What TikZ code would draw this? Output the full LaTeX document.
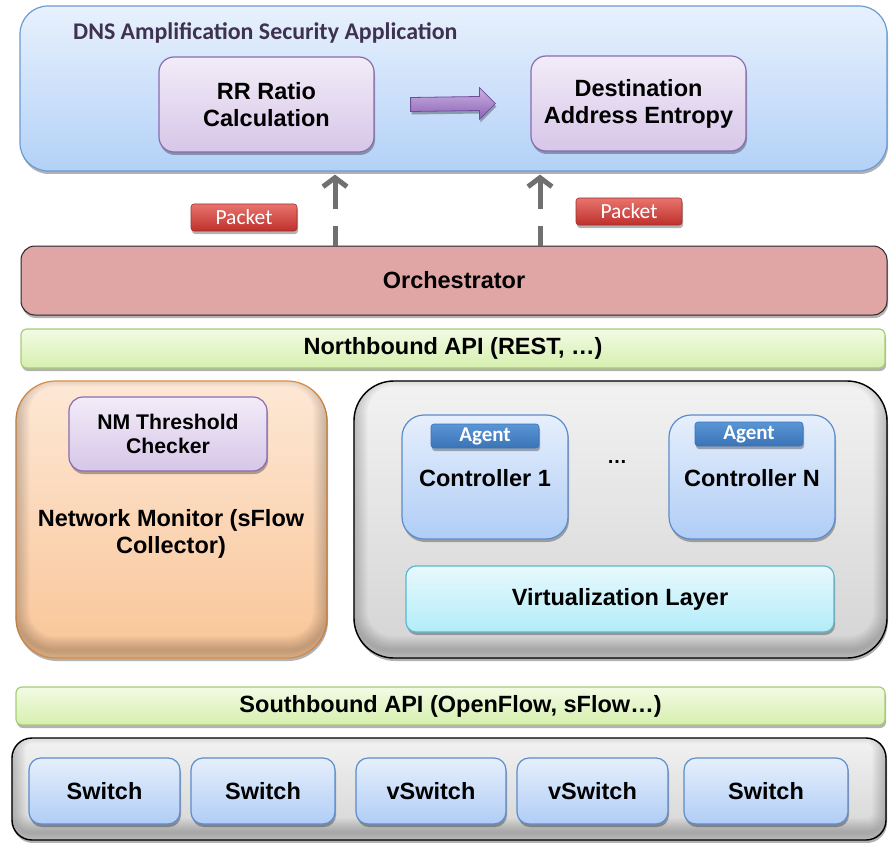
\documentclass[tikz,border=0pt]{standalone}
\usepackage{fontspec}
\setmainfont{Liberation Sans}
\newfontfamily\carl{Carlito}
\usetikzlibrary{shadows,calc,arrows.meta}

\definecolor{appTop}{HTML}{E8F1FD}
\definecolor{appBot}{HTML}{B3D1F7}
\definecolor{appLine}{HTML}{6A9BD1}
\definecolor{purTop}{HTML}{F2ECF8}
\definecolor{purBot}{HTML}{D7C6E8}
\definecolor{purLine}{HTML}{8A6BB0}
\definecolor{redTop}{HTML}{E8746E}
\definecolor{redBot}{HTML}{BE302C}
\definecolor{redLine}{HTML}{A03030}
\definecolor{orchFill}{HTML}{E0A6A6}
\definecolor{grnTop}{HTML}{F2FBE4}
\definecolor{grnBot}{HTML}{D6EFAE}
\definecolor{grnLine}{HTML}{A6CC78}
\definecolor{orTop}{HTML}{FDE8D6}
\definecolor{orBot}{HTML}{F9C597}
\definecolor{orLine}{HTML}{F6A050}
\definecolor{gyTop}{HTML}{F2F2F2}
\definecolor{gyBot}{HTML}{D4D4D4}
\definecolor{ctTop}{HTML}{E6EFFC}
\definecolor{ctBot}{HTML}{B0CDF6}
\definecolor{ctLine}{HTML}{5B8CCC}
\definecolor{agTop}{HTML}{5A95D5}
\definecolor{agBot}{HTML}{3A74B8}
\definecolor{cyTop}{HTML}{E8F9FD}
\definecolor{cyBot}{HTML}{B2ECF9}
\definecolor{cyLine}{HTML}{5AB8D0}
\definecolor{titleCol}{HTML}{3F3151}
\definecolor{arrowGray}{HTML}{707070}
\definecolor{blkTop}{HTML}{CDB0E4}
\definecolor{blkBot}{HTML}{8A64B4}
\definecolor{blkLine}{HTML}{6E4E9C}

\tikzset{
  shad/.style={drop shadow={shadow xshift=1pt,shadow yshift=-3pt,opacity=0.3,fill=black}},
  big/.style={font=\fontsize{23.5}{27}\selectfont\bfseries, align=center},
  appbox/.style={shad, draw=appLine, line width=1.2pt, top color=appTop, bottom color=appBot, rounded corners=28pt},
  purbox/.style={shad, draw=purLine, line width=1.2pt, top color=purTop, bottom color=purBot, rounded corners=15pt, big},
  packet/.style={shad, draw=redLine, line width=0.6pt, top color=redTop, bottom color=redBot, rounded corners=3pt,
    minimum width=106pt, minimum height=27pt, inner sep=0pt, text=white, font=\carl\fontsize{21.5}{24}\selectfont},
  orchbox/.style={shad, draw=black!85, line width=1pt, fill=orchFill, rounded corners=14pt, big},
  apibar/.style={shad, draw=grnLine, line width=1.2pt, top color=grnTop, bottom color=grnBot, rounded corners=6pt, big},
  orbox/.style={shad, draw=orLine, line width=1.2pt, top color=orTop, bottom color=orBot, rounded corners=40pt},
  graybox/.style={shad, draw=black, line width=1.4pt, top color=gyTop, bottom color=gyBot},
  ctrlbox/.style={shad, draw=ctLine, line width=1.2pt, top color=ctTop, bottom color=ctBot, rounded corners=22pt},
  agent/.style={shad, draw=agBot, line width=0.6pt, top color=agTop, bottom color=agBot, rounded corners=3pt,
    minimum width=108pt, minimum height=24pt, inner sep=0pt, text=white, font=\carl\bfseries\fontsize{21}{24}\selectfont},
  virtbox/.style={shad, draw=cyLine, line width=1.2pt, top color=cyTop, bottom color=cyBot, rounded corners=10pt, big},
  swbox/.style={shad, draw=ctLine, line width=1.2pt, top color=ctTop, bottom color=ctBot, rounded corners=12pt,
    minimum height=66pt, big},
  garrow/.style={draw=arrowGray, line width=5pt, dash pattern=on 20pt off 16pt on 80pt,
    -{Straight Barb[length=9pt,width=24pt]}},
  blockarrow/.style={draw=blkLine, line width=0.8pt, top color=blkTop, bottom color=blkBot, shad}
}

% soft darkening along the inside of a rounded box, strongest at the bottom
\newcommand{\insideshade}[2]{%
  \begin{scope}
    \clip[rounded corners=#2] (#1.north west) rectangle (#1.south east);
    \foreach \w in {28,24,20,16,12,8,4}
      \draw[black, opacity=0.03, line width=\w pt, rounded corners=#2]
        ($(#1.north west)+(0,-8)$) rectangle ($(#1.south east)+(0,-8)$);
  \end{scope}%
}

\begin{document}
\begin{tikzpicture}[x=1pt,y=-1pt]
\useasboundingbox (0,0) rectangle (890,842);

% application layer
\node[appbox, minimum width=867pt, minimum height=165pt] (app) at (453.5,88.5) {};
\node[anchor=west, text=titleCol, font=\carl\bfseries\fontsize{23.9}{28}\selectfont, inner sep=0pt] (title) at (73,33)
  {DNS Amplification Security Application};
\node[purbox, minimum width=215pt, minimum height=95pt] (rr) at (266.5,104.5) {RR Ratio\\Calculation};
\node[purbox, minimum width=215pt, minimum height=95pt] (dest) at (638.5,103.5) {Destination\\Address Entropy};

% block arrow between the two analysis stages
\coordinate (ba1) at ($(rr.east)+(36,0)$);
\coordinate (ba2) at ($(dest.west)+(-35,0)$);
\path[blockarrow] ($(ba1)+(0,-7)$) -- ($(ba2)+(-16,-7)$) -- ($(ba2)+(-16,-16)$) -- (ba2)
  -- ($(ba2)+(-16,16)$) -- ($(ba2)+(-16,7)$) -- ($(ba1)+(0,7)$) -- cycle;

% orchestrator
\node[orchbox, minimum width=866pt, minimum height=69pt] (orch) at (454,280.5) {Orchestrator};

% packets handed up to the application
\node[packet] (pk1) at (244,217.5) {Packet};
\node[packet] (pk2) at (629,211.5) {Packet};
\coordinate (up1s) at (orch.north -| 335,0);
\coordinate (up1e) at (app.south -| 335,0);
\coordinate (up2s) at (orch.north -| 540,0);
\coordinate (up2e) at (app.south -| 540,0);
\draw[garrow] (up1s) -- ($(up1e)+(0,3)$);
\draw[garrow] (up2s) -- ($(up2e)+(0,3)$);

% northbound API
\node[apibar, minimum width=864pt, minimum height=39pt] (nb) at (453,348.5) {Northbound API (REST, \dots)};

% network monitor
\node[orbox, minimum width=311pt, minimum height=277pt] (nm) at (171.5,519.5) {};
\insideshade{nm}{40pt}
\node[purbox, rounded corners=14pt, minimum width=198pt, minimum height=74pt,
  font=\fontsize{21.2}{24}\selectfont\bfseries] (nmt) at (168,434) {NM Threshold\\Checker};
\node[big] (nmtext) at (171,534) {Network Monitor (sFlow\\Collector)};

% controllers
\node[graybox, rounded corners=40pt, minimum width=533pt, minimum height=277pt] (ctl) at (620.5,519.5) {};
\insideshade{ctl}{40pt}
\node[ctrlbox, minimum width=166pt, minimum height=124pt] (c1) at (485,477) {};
\node[big] (c1t) at (485,478) {Controller 1};
\node[agent] (ag1) at (485,436) {Agent};
\node[font=\fontsize{20}{24}\selectfont\bfseries] (dots) at (617,462) {\dots};
\node[ctrlbox, minimum width=166pt, minimum height=124pt] (cn) at (752,477) {};
\node[big] (cnt) at (752,478) {Controller N};
\node[agent] (agn) at (749,434) {Agent};
\node[virtbox, minimum width=428pt, minimum height=66pt] (virt) at (620,599) {Virtualization Layer};

% southbound API
\node[apibar, minimum width=869pt, minimum height=38pt] (sb) at (450.5,706) {Southbound API (OpenFlow, sFlow\dots)};

% data plane
\node[graybox, rounded corners=20pt, minimum width=874pt, minimum height=102pt] (sw) at (449,789) {};
\insideshade{sw}{20pt}
\node[swbox, minimum width=151pt] (s1) at (104.5,791) {Switch};
\node[swbox, minimum width=144pt] (s2) at (263,791) {Switch};
\node[swbox, minimum width=150pt] (s3) at (431,791) {vSwitch};
\node[swbox, minimum width=151pt] (s4) at (592.5,791) {vSwitch};
\node[swbox, minimum width=164pt] (s5) at (766,791) {Switch};
\end{tikzpicture}
\end{document}
